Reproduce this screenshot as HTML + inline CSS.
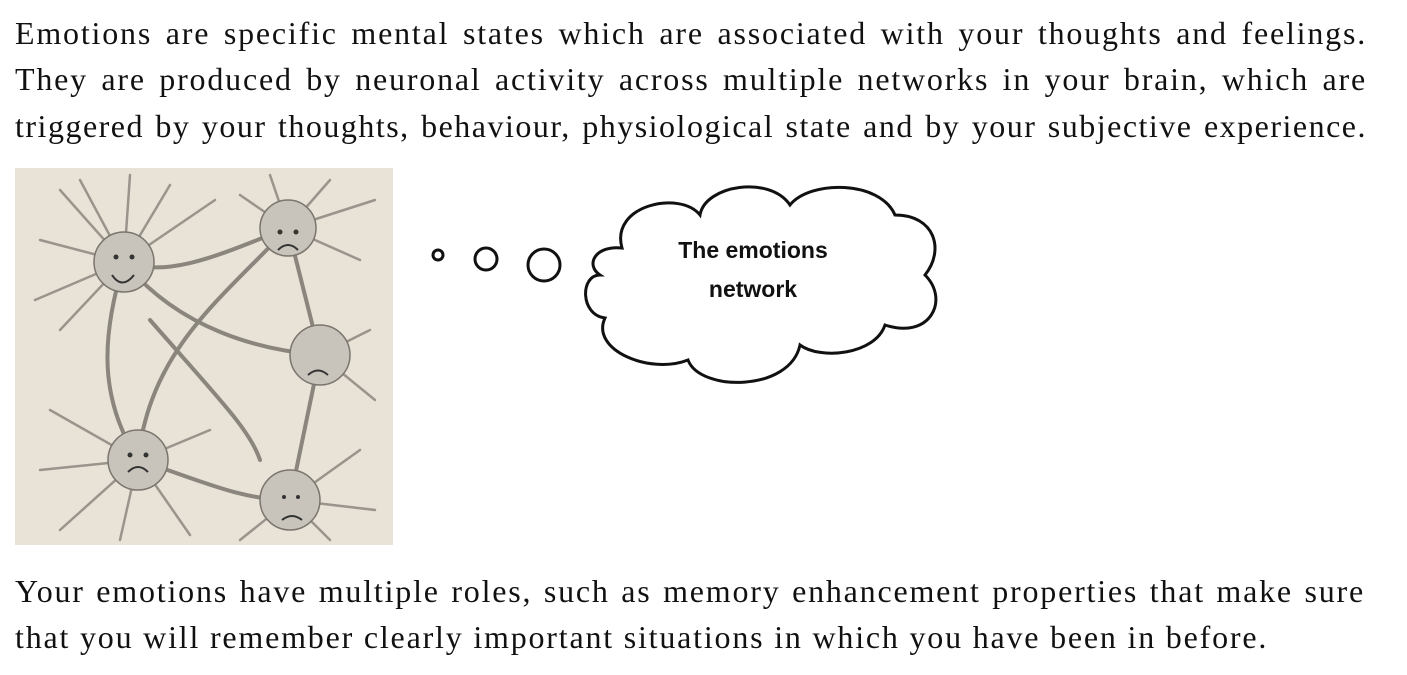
<!DOCTYPE html>
<html><head><meta charset="utf-8"><style>
body{margin:0;width:1407px;height:675px;background:#fff;position:relative;overflow:hidden;font-family:"Liberation Serif",serif;color:#111;}
.l{position:absolute;left:15px;width:1352px;font-size:32px;letter-spacing:1.8px;white-space:nowrap;text-align:justify;text-align-last:justify;line-height:34px;}
.n{text-align-last:left;}
</style></head><body>
<div class="l" style="top:16px">Emotions are specific mental states which are associated with your thoughts and feelings.</div>
<div class="l" style="top:62px">They are produced by neuronal activity across multiple networks in your brain, which are</div>
<div class="l" style="top:109px;letter-spacing:1.5px">triggered by your thoughts, behaviour, physiological state and by your subjective experience.</div>
<div class="l" style="top:574px;width:1350px">Your emotions have multiple roles, such as memory enhancement properties that make sure</div>
<div class="l n" style="top:620px">that you will remember clearly important situations in which you have been in before.</div>

<svg style="position:absolute;left:0;top:0" width="1407" height="675">
<rect x="15" y="168" width="378" height="377" fill="#e8e2d7"/>
<g stroke="#8a857d" stroke-width="4" fill="none" stroke-linecap="round">
<path d="M124 262 C170 280 230 250 288 228"/>
<path d="M124 262 C180 330 260 350 320 355"/>
<path d="M288 228 C220 300 150 350 138 460"/>
<path d="M124 262 C100 340 100 400 138 460"/>
<path d="M138 460 C200 480 240 500 290 500"/>
<path d="M320 355 L290 500"/>
<path d="M288 228 L320 355"/>
<path d="M150 320 C220 400 250 430 260 460"/>
</g>
<g stroke="#9a958c" stroke-width="2.5" fill="none" stroke-linecap="round">
<path d="M124 262 L60 190 M124 262 L40 240 M124 262 L35 300 M124 262 L80 180 M124 262 L130 175 M124 262 L170 185 M124 262 L215 200 M124 262 L60 330"/>
<path d="M288 228 L270 175 M288 228 L330 180 M288 228 L375 200 M288 228 L360 260 M288 228 L240 195"/>
<path d="M138 460 L50 410 M138 460 L40 470 M138 460 L60 530 M138 460 L120 540 M138 460 L190 535 M138 460 L210 430"/>
<path d="M290 500 L240 540 M290 500 L360 450 M290 500 L375 510 M290 500 L330 540"/>
<path d="M320 355 L370 330 M320 355 L375 400"/>
</g>
<g fill="#c9c4bb" stroke="#7a756e" stroke-width="1.5">
<circle cx="124" cy="262" r="30"/><circle cx="288" cy="228" r="28"/><circle cx="320" cy="355" r="30"/><circle cx="138" cy="460" r="30"/><circle cx="290" cy="500" r="30"/>
</g>
<g stroke="#333" stroke-width="2" fill="none">
<path d="M112 275 Q122 290 134 275"/><path d="M278 250 Q288 240 298 250"/><path d="M308 375 Q318 366 328 375"/><path d="M128 472 Q138 462 148 472"/><path d="M282 520 Q292 512 302 520"/>
</g>
<g fill="#333"><circle cx="116" cy="257" r="2.5"/><circle cx="132" cy="257" r="2.5"/><circle cx="280" cy="232" r="2.5"/><circle cx="296" cy="232" r="2.5"/><circle cx="130" cy="455" r="2.5"/><circle cx="146" cy="455" r="2.5"/><circle cx="284" cy="497" r="2"/><circle cx="298" cy="497" r="2"/></g>
<g stroke="#111" stroke-width="3" fill="none">
<circle cx="438" cy="255" r="5"/><circle cx="486" cy="259" r="11"/><circle cx="544" cy="265" r="16"/>
<path d="M622 248 C610 205 680 190 700 215 C705 185 770 175 790 205 C810 180 880 180 895 215 C935 215 945 250 925 275 C950 300 930 340 885 325 C875 355 820 360 800 345 C790 392 700 392 688 360 C650 375 590 350 605 318 C580 315 580 275 600 275 C585 265 595 245 622 248 Z" fill="#fff"/>
</g>
<text x="753" y="258" text-anchor="middle" font-family="Liberation Sans, sans-serif" font-weight="bold" font-size="23" fill="#111">The emotions</text>
<text x="753" y="297" text-anchor="middle" font-family="Liberation Sans, sans-serif" font-weight="bold" font-size="23" fill="#111">network</text>
</svg>
</body></html>
